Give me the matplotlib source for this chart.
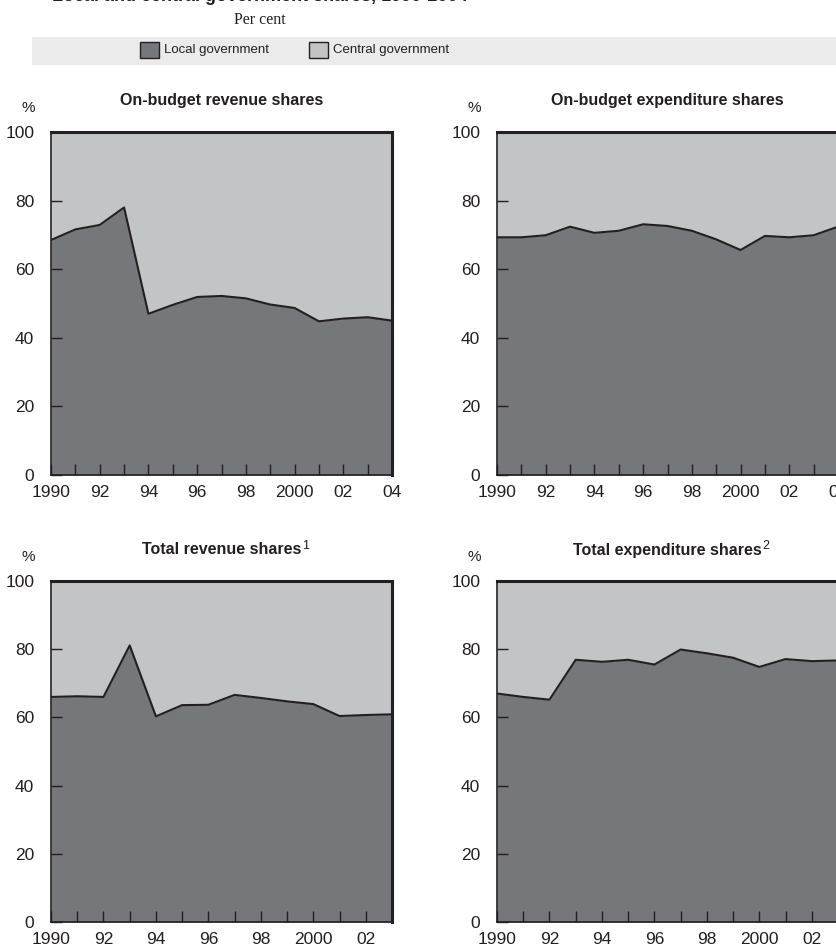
import numpy as np
import matplotlib
matplotlib.use('Agg')
import matplotlib.pyplot as plt
from matplotlib.patches import Rectangle

plt.rcParams['font.family'] = ['Liberation Sans Narrow', 'Liberation Sans', 'DejaVu Sans']

LOCAL_COLOR = '#76777b'
CENTRAL_COLOR = '#c3c4c6'
INK = '#231f20'

# years
years_04 = list(range(1990, 2005))
years_03 = list(range(1990, 2004))

# local government shares (%), central = 100 - local
onbudget_revenue = [68.5, 71.6, 72.9, 78.0, 47.0, 49.6, 51.9, 52.2, 51.5, 49.7, 48.7, 44.8, 45.6, 46.0, 45.0]
onbudget_expenditure = [69.3, 69.3, 69.9, 72.4, 70.6, 71.2, 73.1, 72.6, 71.2, 68.7, 65.6, 69.7, 69.3, 69.9, 72.4]
total_revenue = [66.0, 66.2, 66.0, 81.1, 60.3, 63.6, 63.7, 66.6, 65.7, 64.7, 63.9, 60.4, 60.7, 60.9]
total_expenditure = [67.0, 66.0, 65.2, 76.9, 76.3, 76.9, 75.5, 79.9, 78.8, 77.5, 74.8, 77.1, 76.5, 76.7]

tick_years = [1990, 1992, 1994, 1996, 1998, 2000, 2002, 2004]
tick_labels = ['1990', '92', '94', '96', '98', '2000', '02', '04']

W, H = 836, 950
fig = plt.figure(figsize=(W / 100, H / 100), dpi=100)


def px_axes(x0, y0, x1, y1):
    return fig.add_axes([x0 / W, 1 - y1 / H, (x1 - x0) / W, (y1 - y0) / H])


panels = [
    ((51, 132, 392, 475), years_04, onbudget_revenue, 'On-budget revenue shares', ''),
    ((497, 132, 838, 475), years_04, onbudget_expenditure, 'On-budget expenditure shares', ''),
    ((51, 581, 392, 922), years_03, total_revenue, 'Total revenue shares', '1'),
    ((497, 581, 838, 922), years_03, total_expenditure, 'Total expenditure shares', '2'),
]

for box, yrs, local, title, note in panels:
    ax = px_axes(*box)
    x = np.array(yrs)
    y = np.array(local)
    ax.fill_between(x, 0, y, color=LOCAL_COLOR, linewidth=0)
    ax.fill_between(x, y, 100, color=CENTRAL_COLOR, linewidth=0)
    ax.plot(x, y, color=INK, linewidth=1.5)
    ax.set_xlim(yrs[0], yrs[-1])
    ax.set_ylim(0, 100)
    ax.set_xticks(yrs, minor=True)
    ax.set_xticks([t for t in tick_years if t <= yrs[-1]])
    ax.set_xticklabels([l for t, l in zip(tick_years, tick_labels) if t <= yrs[-1]])
    ax.set_yticks([0, 20, 40, 60, 80, 100])
    ax.tick_params(axis='x', which='both', direction='in', length=8, width=1,
                   color=INK, labelsize=12.5, pad=7, labelcolor=INK)
    ax.tick_params(axis='y', direction='in', length=8, width=1,
                   color=INK, labelsize=12.5, pad=12, labelcolor=INK)
    for side in ['top', 'right']:
        ax.spines[side].set_linewidth(2.2)
    for side in ['left', 'bottom']:
        ax.spines[side].set_linewidth(1.2)
    for s in ax.spines.values():
        s.set_color(INK)
    ax.set_axisbelow(False)
    # title with superscript note
    cx = (box[0] + box[2]) / 2
    ty = box[1] - 31
    t = fig.text(cx / W, 1 - ty / H, title, ha='center', va='center',
                 fontsize=11.5, fontweight='bold', color=INK)
    if note:
        fig.canvas.draw()
        bb = t.get_window_extent()
        fig.text(bb.x1 / W + 0.001, 1 - (ty - 4) / H, note, ha='left', va='center',
                 fontsize=9, color=INK)
    fig.text((box[0] - 23) / W, 1 - (box[1] - 24) / H, '%', ha='center', va='center',
             fontsize=11, color=INK)

# top heading (cut off at the top edge in the source)
fig.text(260 / W, 1 - 1 / H, 'Local and central government shares, 1990-2004',
         ha='center', va='baseline', fontsize=13, fontweight='bold', color=INK)
fig.text(260 / W, 1 - 20 / H, 'Per cent', ha='center', va='center',
         fontsize=11.5, family=['Liberation Serif', 'DejaVu Serif'], color=INK)

# legend band
fig.patches.append(Rectangle((32 / W, 1 - 65 / H), (W - 32) / W, 28 / H,
                             transform=fig.transFigure, facecolor='#ebebeb',
                             edgecolor='none', zorder=0))
legend_items = [(140, LOCAL_COLOR, 'Local government'),
                (309, CENTRAL_COLOR, 'Central government')]
for lx, col, lab in legend_items:
    fig.patches.append(Rectangle((lx / W, 1 - 58 / H), 19 / W, 16 / H,
                                 transform=fig.transFigure, facecolor=col,
                                 edgecolor=INK, linewidth=1, zorder=1))
    fig.text((lx + 24) / W, 1 - 50 / H, lab, ha='left', va='center',
             fontsize=9.5, color=INK)

fig.savefig('out.png', dpi=100)
